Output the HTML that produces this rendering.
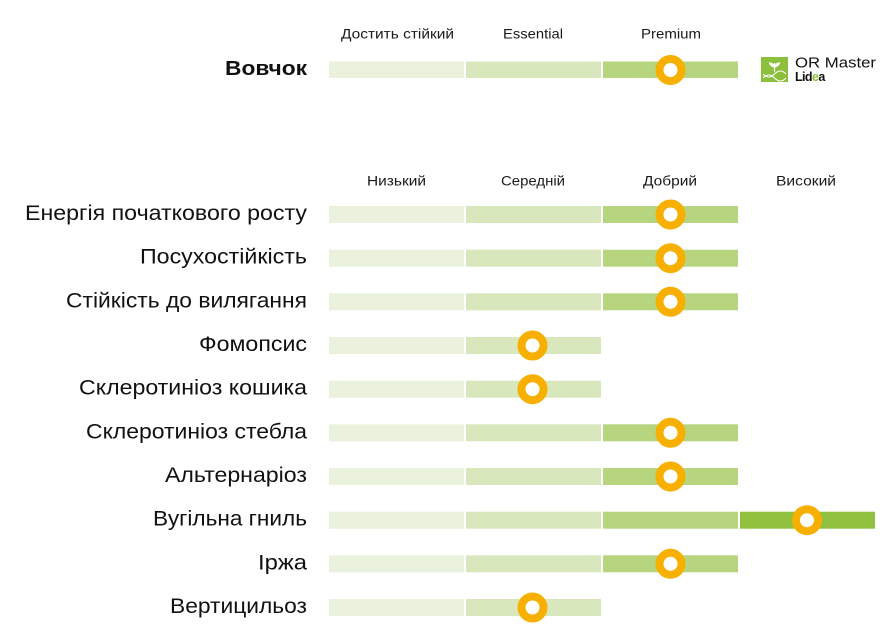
<!DOCTYPE html>
<html><head><meta charset="utf-8">
<style>
html,body{margin:0;padding:0;background:#fff;}
svg{display:block;}
text{font-family:"Liberation Sans","DejaVu Sans",sans-serif;}
</style></head>
<body>
<svg width="885" height="634" viewBox="0 0 885 634" xmlns="http://www.w3.org/2000/svg">
<defs>
  <g id="ring"><circle r="11" fill="#fff" stroke="#f8b000" stroke-width="8"/></g>
</defs>
<!-- top header -->
<g font-size="14" fill="#1a1a1a" text-anchor="middle">
  <text x="397.5" y="38.5" textLength="113" lengthAdjust="spacingAndGlyphs">Достить стійкий</text>
  <text x="533" y="38.5" textLength="60" lengthAdjust="spacingAndGlyphs">Essential</text>
  <text x="671" y="38.5" textLength="60" lengthAdjust="spacingAndGlyphs">Premium</text>
</g>
<text x="307" y="75" font-size="20.5" font-weight="bold" text-anchor="end" fill="#111" textLength="82" lengthAdjust="spacingAndGlyphs">Вовчок</text>
<rect x="329" y="61.5" width="135" height="16.5" fill="#eaf2dd"/>
<rect x="466" y="61.5" width="135" height="16.5" fill="#d8e7bc"/>
<rect x="603" y="61.5" width="135" height="16.5" fill="#b7d47f"/>
<use href="#ring" x="670.5" y="70"/>

<!-- logo -->
<rect x="761" y="57" width="27" height="25" fill="#8cbf3c"/>
<g stroke="#fff" fill="none" stroke-width="1.2">
  <line x1="774.5" y1="63" x2="774.5" y2="72"/>
  <path d="M774.5 67 q-4 -1 -5 -4 q4 0 5 4z" fill="#fff"/>
  <path d="M774.5 67 q4 -1 5 -4 q-4 0 -5 4z" fill="#fff"/>
  <path d="M763 74 q6 6 11.5 0 q6 -6 11.5 0" stroke-width="1"/>
  <path d="M763 78 q6 -6 11.5 0 q6 6 11.5 0" stroke-width="1"/>
</g>
<text x="795" y="67.5" font-size="15" fill="#111" textLength="81" lengthAdjust="spacingAndGlyphs">OR Master</text>
<text x="795" y="81" font-size="12.5" font-weight="bold" fill="#111" letter-spacing="-0.6">Li<tspan fill="#111">d</tspan><tspan fill="#8cbf3c">e</tspan>a</text>

<!-- main header -->
<g font-size="14" fill="#1a1a1a" text-anchor="middle">
  <text x="396.5" y="185.5" textLength="59" lengthAdjust="spacingAndGlyphs">Низький</text>
  <text x="533" y="185.5" textLength="64" lengthAdjust="spacingAndGlyphs">Середній</text>
  <text x="670" y="185.5" textLength="54" lengthAdjust="spacingAndGlyphs">Добрий</text>
  <text x="806" y="185.5" textLength="60" lengthAdjust="spacingAndGlyphs">Високий</text>
</g>

<g font-size="21" fill="#111" text-anchor="end">
  <text x="307" y="220" textLength="282" lengthAdjust="spacingAndGlyphs">Енергія початкового росту</text>
  <text x="307" y="263.7" textLength="167" lengthAdjust="spacingAndGlyphs">Посухостійкість</text>
  <text x="307" y="307.3" textLength="241" lengthAdjust="spacingAndGlyphs">Стійкість до вилягання</text>
  <text x="307" y="351" textLength="108" lengthAdjust="spacingAndGlyphs">Фомопсис</text>
  <text x="307" y="394.7" textLength="228" lengthAdjust="spacingAndGlyphs">Склеротиніоз кошика</text>
  <text x="307" y="438.3" textLength="221" lengthAdjust="spacingAndGlyphs">Склеротиніоз стебла</text>
  <text x="307" y="482" textLength="142" lengthAdjust="spacingAndGlyphs">Альтернаріоз</text>
  <text x="307" y="525.7" textLength="154" lengthAdjust="spacingAndGlyphs">Вугільна гниль</text>
  <text x="307" y="569.3" textLength="49" lengthAdjust="spacingAndGlyphs">Іржа</text>
  <text x="307" y="613" textLength="137" lengthAdjust="spacingAndGlyphs">Вертицильоз</text>
</g>

<!-- rows -->
<g>
  <rect x="329" y="206" width="135" height="17" fill="#eaf2dd"/>
  <rect x="466" y="206" width="135" height="17" fill="#d8e7bc"/>
  <rect x="603" y="206" width="135" height="17" fill="#b7d47f"/>
  <use href="#ring" x="670.5" y="214.5"/>
</g>
<g>
  <rect x="329" y="249.7" width="135" height="17" fill="#eaf2dd"/>
  <rect x="466" y="249.7" width="135" height="17" fill="#d8e7bc"/>
  <rect x="603" y="249.7" width="135" height="17" fill="#b7d47f"/>
  <use href="#ring" x="670.5" y="258.2"/>
</g>
<g>
  <rect x="329" y="293.3" width="135" height="17" fill="#eaf2dd"/>
  <rect x="466" y="293.3" width="135" height="17" fill="#d8e7bc"/>
  <rect x="603" y="293.3" width="135" height="17" fill="#b7d47f"/>
  <use href="#ring" x="670.5" y="301.8"/>
</g>
<g>
  <rect x="329" y="337" width="135" height="17" fill="#eaf2dd"/>
  <rect x="466" y="337" width="135" height="17" fill="#d8e7bc"/>
  <use href="#ring" x="532.5" y="345.5"/>
</g>
<g>
  <rect x="329" y="380.7" width="135" height="17" fill="#eaf2dd"/>
  <rect x="466" y="380.7" width="135" height="17" fill="#d8e7bc"/>
  <use href="#ring" x="532.5" y="389.2"/>
</g>
<g>
  <rect x="329" y="424.3" width="135" height="17" fill="#eaf2dd"/>
  <rect x="466" y="424.3" width="135" height="17" fill="#d8e7bc"/>
  <rect x="603" y="424.3" width="135" height="17" fill="#b7d47f"/>
  <use href="#ring" x="670.5" y="432.8"/>
</g>
<g>
  <rect x="329" y="468" width="135" height="17" fill="#eaf2dd"/>
  <rect x="466" y="468" width="135" height="17" fill="#d8e7bc"/>
  <rect x="603" y="468" width="135" height="17" fill="#b7d47f"/>
  <use href="#ring" x="670.5" y="476.5"/>
</g>
<g>
  <rect x="329" y="511.7" width="135" height="17" fill="#eaf2dd"/>
  <rect x="466" y="511.7" width="135" height="17" fill="#d8e7bc"/>
  <rect x="603" y="511.7" width="135" height="17" fill="#b7d47f"/>
  <rect x="740" y="511.7" width="135" height="17" fill="#92c13f"/>
  <use href="#ring" x="807" y="520.2"/>
</g>
<g>
  <rect x="329" y="555.3" width="135" height="17" fill="#eaf2dd"/>
  <rect x="466" y="555.3" width="135" height="17" fill="#d8e7bc"/>
  <rect x="603" y="555.3" width="135" height="17" fill="#b7d47f"/>
  <use href="#ring" x="670.5" y="563.8"/>
</g>
<g>
  <rect x="329" y="599" width="135" height="17" fill="#eaf2dd"/>
  <rect x="466" y="599" width="135" height="17" fill="#d8e7bc"/>
  <use href="#ring" x="532.5" y="607.5"/>
</g>
</svg>
</body></html>
